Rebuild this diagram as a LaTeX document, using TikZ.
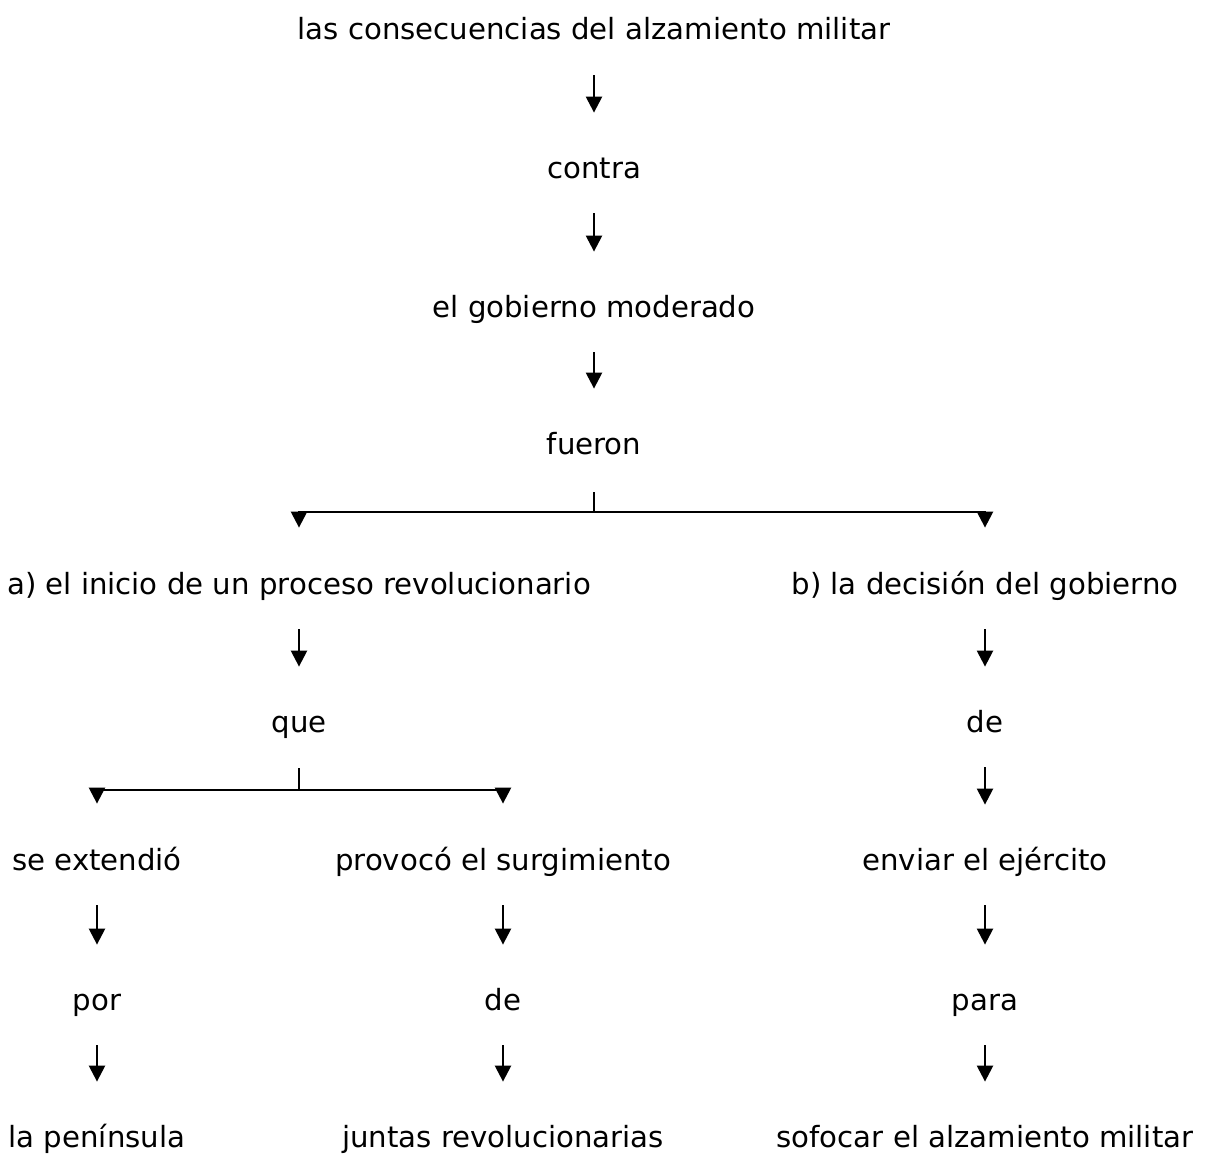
\documentclass[tikz,border=0pt]{standalone}
\usepackage{fontspec}
\setmainfont{DejaVu Sans}
\usetikzlibrary{arrows.meta}
\begin{document}
\begin{tikzpicture}[
    x=0.5pt, y=-0.5pt,
    concept/.style={rectangle, inner sep=0pt, minimum height=44pt,
        text height=14pt, text depth=2pt,
        font=\fontsize{14.6}{17}\selectfont, anchor=center},
    link/.style={line width=1.2pt},
    arr/.style={line width=1.2pt, -{Triangle[width=8pt,length=8pt]},
        shorten <=1.5pt, shorten >=4.5pt},
    branch/.style={line width=1.2pt, -{Triangle[width=8pt,length=8pt]},
        shorten >=5pt}
]
\useasboundingbox (0,0) rectangle (1211,1156);

\node (Consec) [concept] at (594,28) {las consecuencias del alzamiento militar};
\node (Contra) [concept] at (594,166) {contra};
\node (Gobierno) [concept] at (594,305) {el gobierno moderado};
\node (Fueron) [concept] at (594,442) {fueron};

\node (Inicio) [concept] at (299,582) {a) el inicio de un proceso revolucionario};
\node (Que) [concept] at (299,720) {que};
\node (Extendio) [concept] at (97,858) {se extendió};
\node (Por) [concept] at (97,998) {por};
\node (Peninsula) [concept] at (97,1135) {la península};
\node (Provoco) [concept] at (503,858) {provocó el surgimiento};
\node (DeJuntas) [concept] at (503,998) {de};
\node (Juntas) [concept] at (503,1135) {juntas revolucionarias};

\node (Decision) [concept] at (985,582) {b) la decisión del gobierno};
\node (DeEnviar) [concept] at (985,720) {de};
\node (Enviar) [concept] at (985,858) {enviar el ejército};
\node (Para) [concept] at (985,998) {para};
\node (Sofocar) [concept] at (985,1135) {sofocar el alzamiento militar};

\coordinate (Fork1) at (594,512);
\coordinate (Fork2) at (299,790);

\draw[arr] (Consec) -- (Contra);
\draw[arr] (Contra) -- (Gobierno);
\draw[arr] (Gobierno) -- (Fueron);

\draw[link] ([yshift=-3pt]Fueron.south) -- (Fork1);
\draw[branch] (Fork1) -| (Inicio.north);
\draw[branch] (Fork1) -| (Decision.north);

\draw[arr] (Inicio) -- (Que);
\draw[link] ([yshift=-2pt]Que.south) -- (Fork2);
\draw[branch] (Fork2) -| (Extendio.north);
\draw[branch] (Fork2) -| (Provoco.north);

\draw[arr] (Extendio) -- (Por);
\draw[arr] (Por) -- (Peninsula);
\draw[arr] (Provoco) -- (DeJuntas);
\draw[arr] (DeJuntas) -- (Juntas);

\draw[arr] (Decision) -- (DeEnviar);
\draw[arr] (DeEnviar) -- (Enviar);
\draw[arr] (Enviar) -- (Para);
\draw[arr] (Para) -- (Sofocar);

\end{tikzpicture}
\end{document}
